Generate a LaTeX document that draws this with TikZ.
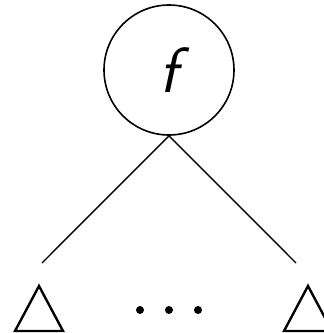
\documentclass[tikz,border=0pt]{standalone}
\begin{document}
\begin{tikzpicture}[x=1pt,y=-1pt,
  edge/.style={line width=1.4pt},
  tri/.style={line width=2.4pt,line join=miter},
  dot/.style={circle,fill=black,inner sep=0pt,minimum size=8pt}]
\useasboundingbox (0,0) rectangle (324,333);
\node[circle,draw,line width=1.6pt,minimum size=130pt,inner sep=0pt,
  font=\fontsize{64}{64}\selectfont\sffamily\itshape] (f) at (169,70) {f};
\coordinate (l) at (42,263);
\coordinate (r) at (296,263);
\draw[edge] (f.south) -- (l);
\draw[edge] (f.south) -- (r);
\draw[tri] (39,286) -- (15,331) -- (63,331) -- cycle;
\draw[tri] (308,286) -- (284,331) -- (332,331) -- cycle;
\node[dot] (d1) at (140,310) {};
\node[dot] (d2) at (169,310) {};
\node[dot] (d3) at (198,310) {};
\end{tikzpicture}
\end{document}
